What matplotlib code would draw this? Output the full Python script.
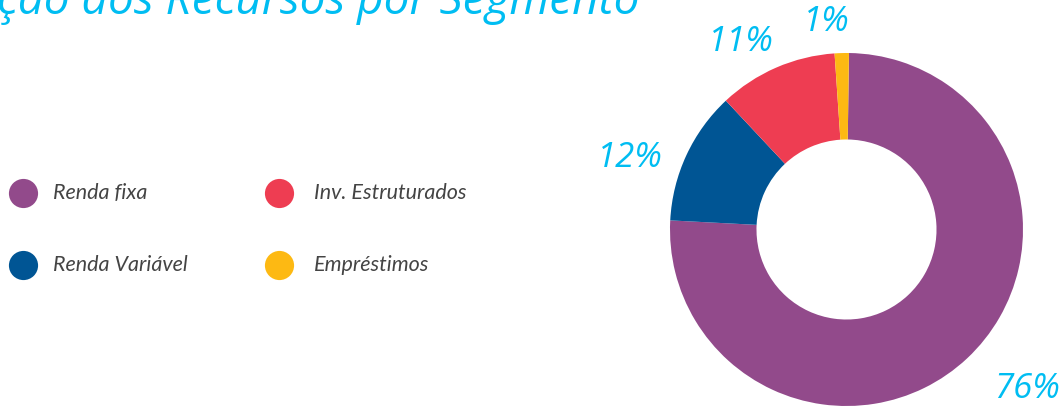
import matplotlib
matplotlib.use("Agg")
import matplotlib.pyplot as plt

# ---- data ----
categories = ["Renda fixa", "Renda Variável", "Inv. Estruturados", "Empréstimos"]
values = [75.6, 12.2, 10.9, 1.3]
pct_labels = ["76%", "12%", "11%", "1%"]
colors = ["#924a8b", "#005594", "#ee3d52", "#fdb913"]
title = "ção dos Recursos por Segmento"

W, H = 1064, 407
fig = plt.figure(figsize=(W / 100, H / 100), dpi=100)
fig.patch.set_facecolor("white")

# background axes in pixel coordinates
bg = fig.add_axes([0, 0, 1, 1])
bg.set_xlim(0, W)
bg.set_ylim(H, 0)
bg.axis("off")

cyan = "#00bdf2"
fam = ["Lato", "DejaVu Sans"]
ofam = ["Open Sans", "DejaVu Sans"]

# title (clipped at top like the reference)
bg.text(-3, 14, title, color=cyan, fontsize=33, style="italic",
        family=ofam, ha="left", va="baseline")

# legend (2 columns)
col_x = [23, 279]
text_x = [53, 314]
row_y = [193, 265]
for i, (cat, col) in enumerate(zip(categories, colors)):
    c = i // 2
    cy = row_y[i % 2]
    bg.scatter([col_x[c]], [cy], s=(21) ** 2, color=col, linewidths=0)
    bg.text(text_x[c], cy, cat, color="#444444", fontsize=15.5, style="italic",
            family=fam, ha="left", va="center")

# donut
cx, cy, r = 846.5, 229.5, 176.5
ax = fig.add_axes([(cx - r) / W, (H - cy - r) / H, 2 * r / W, 2 * r / H])
ax.pie(values, colors=colors, startangle=89.2, counterclock=False,
       radius=1.0, wedgeprops=dict(width=0.49, linewidth=0))
ax.set_xlim(-1, 1)
ax.set_ylim(-1, 1)
ax.set_aspect("equal")
ax.axis("off")

# percentage labels
label_pos = [(1027, 389), (630, 158), (741, 42), (826, 22)]
for lab, (x, y) in zip(pct_labels, label_pos):
    bg.text(x, y, lab, color=cyan, fontsize=25, style="italic",
            family=ofam, ha="center", va="center")

fig.savefig("out.png", dpi=100, facecolor="white")
